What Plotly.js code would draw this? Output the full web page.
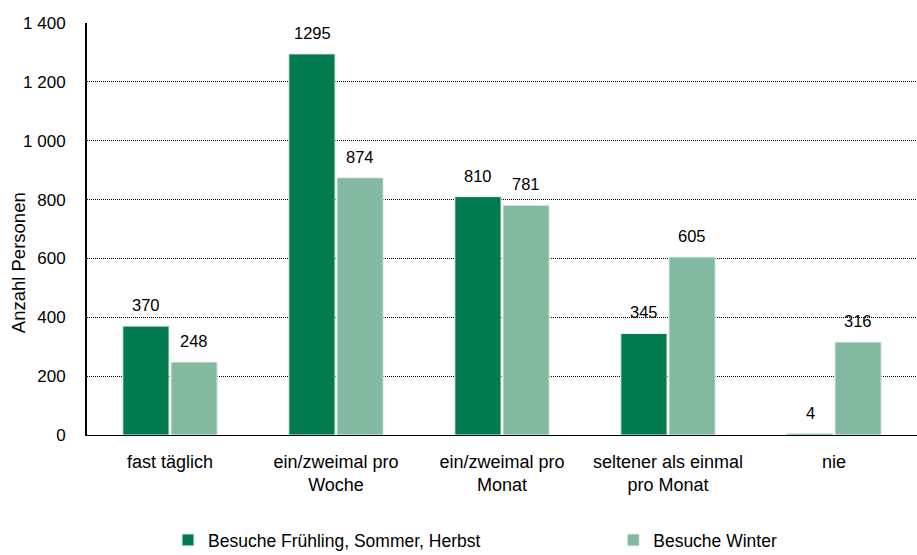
<!DOCTYPE html>
<html><head><meta charset="utf-8">
<script src="https://cdn.plot.ly/plotly-3.0.1.min.js"></script>
<style>html,body{margin:0;padding:0;background:#fff}</style>
</head><body>
<div id="chart" style="width:917px;height:555px"></div>
<script>
const categories = ["fast täglich", "ein/zweimal pro<br>Woche", "ein/zweimal pro<br>Monat", "seltener als einmal<br>pro Monat", "nie"];
const seriesNames = ["Besuche Frühling, Sommer, Herbst", "Besuche Winter"];
const summerValues = [370, 1295, 810, 345, 4];
const winterValues = [248, 874, 781, 605, 316];
const yTicks = [0, 200, 400, 600, 800, 1000, 1200, 1400];
const yTitle = "Anzahl Personen";

const FONT = "Liberation Sans Narrow, Arial Narrow, Liberation Sans, Arial, sans-serif";
const dark = "#037b50", light = "#82b9a0";

const traces = [
  {type:"bar", name:seriesNames[0], x:categories, y:summerValues, legend:"legend", marker:{color:dark, line:{color:"#e6f0ea", width:1}}, hoverinfo:"none"},
  {type:"bar", name:seriesNames[1], x:categories, y:winterValues, legend:"legend2", marker:{color:light, line:{color:"#e6f0ea", width:1}}, hoverinfo:"none"}
];

const annotations = [];
categories.forEach((c,i)=>{
  annotations.push({x:c, y:summerValues[i], text:String(summerValues[i]), showarrow:false, xref:"x", yref:"y", yanchor:"bottom", xshift:-24, yshift:10, font:{family:FONT, size:16.5, color:"#000"}});
  annotations.push({x:c, y:winterValues[i], text:String(winterValues[i]), showarrow:false, xref:"x", yref:"y", yanchor:"bottom", xshift:24, yshift:10, font:{family:FONT, size:16.5, color:"#000"}});
});
annotations.push({text:yTitle, textangle:-90, showarrow:false, xref:"paper", yref:"paper", x:-69/830, y:0.417, xanchor:"center", yanchor:"middle", font:{family:FONT, size:18.5, color:"#000"}});

const legendBase = {orientation:"h", xanchor:"left", yref:"paper", y:-0.255, yanchor:"middle", font:{family:FONT, size:17.5}, itemwidth:30, bgcolor:"rgba(0,0,0,0)"};

const layout = {
  width:917, height:555,
  margin:{l:87, r:0, t:23, b:120, autoexpand:false},
  paper_bgcolor:"#fff", plot_bgcolor:"#fff",
  separators:", ",
  font:{family:FONT, size:16, color:"#000"},
  barmode:"group", bargap:0.42, bargroupgap:0.04,
  showlegend:true,
  legend:Object.assign({}, legendBase, {x:0.0976}),
  legend2:Object.assign({}, legendBase, {x:0.634}),
  xaxis:{type:"category", showline:true, linecolor:"#000", linewidth:1, ticks:"", ticklabelstandoff:10, tickfont:{family:FONT, size:18}, showgrid:false, zeroline:false},
  yaxis:{range:[0,1400], tickvals:yTicks, separatethousands:true, showline:true, linecolor:"#000", linewidth:2, ticks:"", ticklabelstandoff:16, tickfont:{family:FONT, size:17},
    showgrid:true, gridcolor:"#000", gridwidth:1, griddash:"1px,1px", zeroline:false},
  annotations:annotations
};
Plotly.newPlot("chart", traces, layout, {displayModeBar:false, staticPlot:true});
</script>
</body></html>
